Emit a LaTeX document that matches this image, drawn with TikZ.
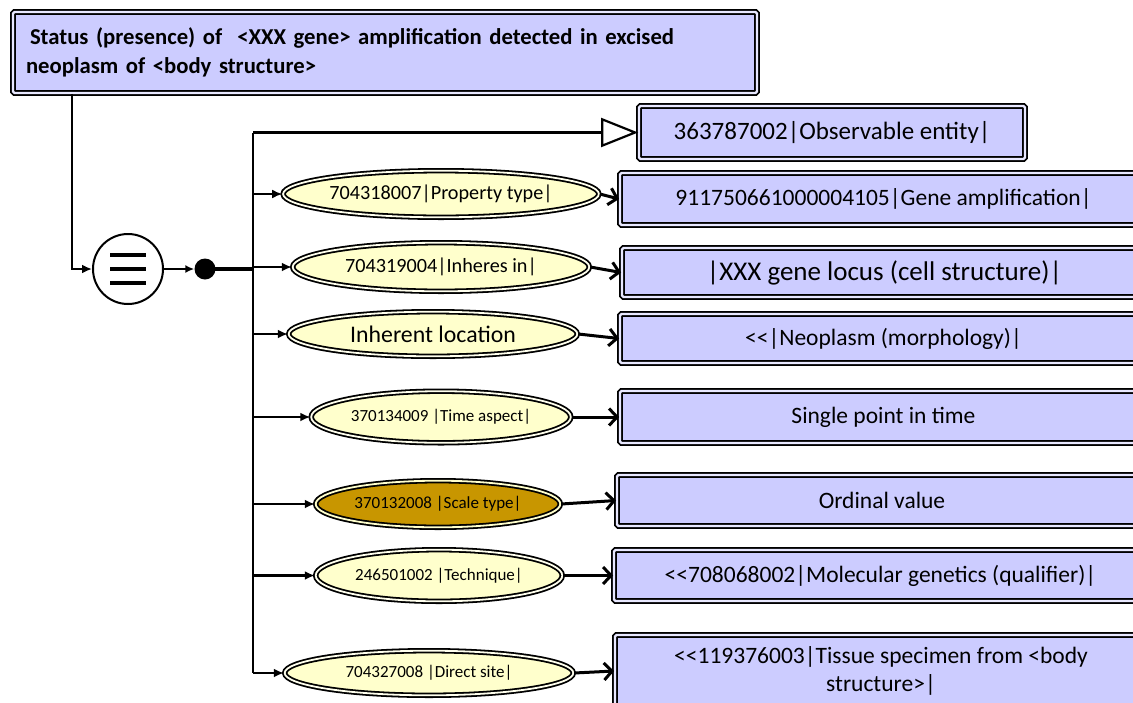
\documentclass[tikz,border=0pt]{standalone}
\usepackage{fontspec}
\setmainfont{Carlito}[Ligatures=TeXOff]
\usetikzlibrary{arrows.meta,shapes.geometric}

\definecolor{lav}{HTML}{CCCCFF}
\definecolor{lavgap}{HTML}{E8E8FF}
\definecolor{cream}{HTML}{FFFFCC}
\definecolor{creamgap}{HTML}{FFFFEE}
\definecolor{gold}{HTML}{C89600}

\tikzset{
  conceptbox/.style={rectangle, draw=black, line width=1.8pt, double=lavgap,
    double distance=2.2pt, fill=lav, rounded corners=1.5pt, inner sep=0pt,
    align=center, font=\fontsize{23.5}{28}\selectfont},
  attrbox/.style={ellipse, draw=black, line width=1.8pt, double=creamgap,
    double distance=1.8pt, fill=cream, inner sep=0pt,
    font=\fontsize{20.2}{24}\selectfont},
  smalltext/.style={font=\fontsize{17}{20}\selectfont},
  feed/.style={line width=2.5pt, -{Latex[length=10pt,width=9pt]}},
  link/.style={line width=3pt, -{Straight Barb[length=8pt,width=17pt]}},
  isa/.style={line width=2.2pt, -{Triangle[open,length=37pt,width=29pt]}},
  trunkline/.style={line width=2.8pt}
}

\begin{document}
\begin{tikzpicture}[x=1pt,y=-1pt]
\clip (0,0) rectangle (1133,702);
\fill[white] (0,0) rectangle (1133,702);

% defining concept
\node[conceptbox, minimum width=744, minimum height=81, text width=718,
      inner xsep=13pt, align=left, font=\bfseries\fontsize{22.7}{29}\selectfont]
  (title) at (385,52.5)
  {\hspace{4pt}Status (presence) of \ <XXX gene> amplification detected in excised\\
   neoplasm of <body structure>};

% definition status and grouping
\node[circle, draw=black, line width=2pt, minimum size=70pt, inner sep=0pt] (eq) at (128,269) {};
\foreach \dy in {-14,0,14}
  \draw[line width=4pt] ([shift={(-18,\dy)}]eq.center) -- ([shift={(18,\dy)}]eq.center);
\node[circle, fill=black, minimum size=21pt, inner sep=0pt] (dot) at (205,269) {};

\coordinate (drop) at (72,0);
\coordinate (ttop) at (253,132.5);
\coordinate (tbot) at (253,673);

% parent concept
\node[conceptbox, minimum width=386, minimum height=53, font=\fontsize{25}{30}\selectfont] (b1) at (832,132.5)
  {363787002|Observable entity|};

% attributes
\node[attrbox, minimum width=302.6, minimum height=46.6] (e1) at (441,194)
  {704318007|Property type|};
\node[attrbox, minimum width=296.6, minimum height=48.6] (e2) at (441,267)
  {704319004|Inheres in|};
\node[attrbox, minimum width=288.6, minimum height=44.6, font=\fontsize{23.8}{28}\selectfont] (e3) at (433,334)
  {Inherent location};
\node[attrbox, smalltext, minimum width=259.6, minimum height=51.6] (e4) at (441,417)
  {370134009 |Time aspect|};
\node[attrbox, smalltext, fill=gold, double=cream, minimum width=244.6, minimum height=46.6] (e5) at (438,504)
  {370132008 |Scale type|};
\node[attrbox, smalltext, minimum width=246.6, minimum height=51.6] (e6) at (439,575.5)
  {246501002 |Technique|};
\node[attrbox, smalltext, minimum width=288.6, minimum height=44.6] (e7) at (429,673)
  {704327008 |Direct site|};

% values
\node[conceptbox, minimum width=527, minimum height=52] (b2) at (883.5,199)
  {911750661000004105|Gene amplification|};
\node[conceptbox, minimum width=525, minimum height=49, font=\fontsize{27}{32}\selectfont] (b3) at (884.5,272.5)
  {|XXX gene locus (cell structure)|};
\node[conceptbox, minimum width=527, minimum height=49] (b4) at (883.5,338.5)
  {<<|Neoplasm (morphology)|};
\node[conceptbox, minimum width=527, minimum height=52] (b5) at (883.5,417)
  {Single point in time};
\node[conceptbox, minimum width=530, minimum height=51] (b6) at (882,500.5)
  {Ordinal value};
\node[conceptbox, minimum width=533, minimum height=51] (b7) at (880.5,575.5)
  {<<708068002|Molecular genetics (qualifier)|};
\node[conceptbox, minimum width=532, minimum height=72] (b8) at (881,671)
  {<<119376003|Tissue specimen from <body\\structure>|};

% connectors
\draw[feed] (title.south -| drop) |- (eq.west);
\draw[line width=2pt, -{Latex[length=9pt,width=8pt]}] (eq.east) -- (dot.west);
\draw[line width=3.5pt] (dot.center) -- (dot.center -| ttop);
\draw[trunkline] (ttop) -- (tbot);
\draw[isa] (ttop) -- (ttop -| b1.west);
\foreach \e in {e1,e2,e3,e4,e5,e6,e7}
  \draw[feed] (\e.west -| ttop) -- (\e.west);
\draw[link] (e1.east) -- (b2.west);
\draw[link] (e2.east) -- (b3.west);
\draw[link] (e3.east) -- (b4.west);
\draw[link] (e4.east) -- (b5.west);
\draw[link] (e5.east) -- (b6.west);
\draw[link] (e6.east) -- (b7.west);
\draw[link] (e7.east) -- (b8.west);
\end{tikzpicture}
\end{document}
